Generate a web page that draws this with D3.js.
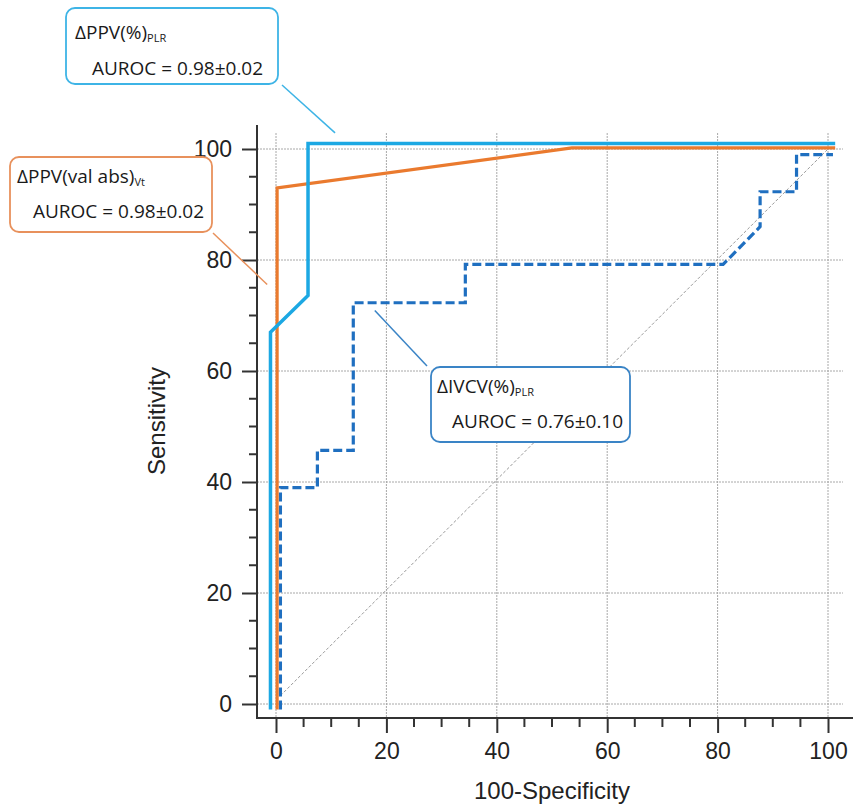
<!DOCTYPE html>
<html>
<head>
<meta charset="utf-8">
<script src="https://cdn.jsdelivr.net/npm/d3@7"></script>
<style>
  body { margin: 0; background: #fff; }
  svg { display: block; }
</style>
</head>
<body>
<svg id="chart"></svg>
<script>
// tick values for both axes
var xTicks = [0, 20, 40, 60, 80, 100];
var yTicks = [0, 20, 40, 60, 80, 100];

// ROC curves (curves are slightly offset so they don't overlap)
var ppvPlrX = [-1, -1, 5.8, 5.8, 101.3];
var ppvPlrY = [-1, 67, 73.6, 101, 101];

var ppvAbsX = [0.2, 0.2, 53.6, 101.3];
var ppvAbsY = [-1, 93, 100.2, 100.2];

var ivcvX = [0.8, 0.8, 7.5, 7.5, 14, 14, 34.3, 34.3, 81, 87.7, 87.7, 94.3, 94.3, 100.9];
var ivcvY = [-1, 39, 39, 45.7, 45.7, 72.3, 72.3, 79.2, 79.2, 86, 92.3, 92.3, 99, 99];

// callout labels
var labelNames = ['ΔPPV(%)', 'ΔPPV(val abs)', 'ΔIVCV(%)'];
var labelSubs = ['PLR', 'Vt', 'PLR'];
var labelAuroc = ['AUROC = 0.98±0.02', 'AUROC = 0.98±0.02', 'AUROC = 0.76±0.10'];
// where each leader line touches the plot (data units)
var anchorX = [10.7, -1.6, 17.9];
var anchorY = [102.9, 75.6, 70.9];

var W = 853, H = 807;
var svg = d3.select('#chart').attr('width', W).attr('height', H);

var x = d3.scaleLinear().domain([0, 100]).range([276, 828]);
var y = d3.scaleLinear().domain([0, 100]).range([704, 149]);

var axisLeft = 257, axisBottom = 718;

// grid
var grid = svg.append('g');
grid.selectAll('.vg').data(xTicks).enter().append('line')
    .attr('x1', function(d) { return x(d); })
    .attr('x2', function(d) { return x(d); })
    .attr('y1', 133).attr('y2', axisBottom)
    .attr('stroke', '#a8a8a8').attr('stroke-width', 1)
    .attr('stroke-dasharray', '2,1');
grid.selectAll('.hg').data(yTicks).enter().append('line')
    .attr('x1', axisLeft).attr('x2', 843)
    .attr('y1', function(d) { return y(d); })
    .attr('y2', function(d) { return y(d); })
    .attr('stroke', '#a8a8a8').attr('stroke-width', 1)
    .attr('stroke-dasharray', '2,1');

// chance diagonal
svg.append('line')
    .attr('x1', x(0.8)).attr('y1', y(1.5))
    .attr('x2', x(100)).attr('y2', y(100))
    .attr('stroke', '#999').attr('stroke-width', 1)
    .attr('stroke-dasharray', '3,2');

// axes
var xAxis = d3.axisBottom(x).tickValues(xTicks).tickSize(15).tickPadding(10);
var yAxis = d3.axisLeft(y).tickValues(yTicks).tickSize(15).tickPadding(10);

var gx = svg.append('g').attr('transform', 'translate(0,' + axisBottom + ')').call(xAxis);
var gy = svg.append('g').attr('transform', 'translate(' + axisLeft + ',0)').call(yAxis);

[gx, gy].forEach(function(g) {
    g.select('.domain').remove();
    g.selectAll('line').attr('stroke', '#333').attr('stroke-width', 2);
    g.selectAll('text').attr('font-family', 'Liberation Sans, Arial, sans-serif')
        .attr('font-size', 23).attr('fill', '#222');
});

// minor ticks every 5
var minor = d3.range(0, 101, 5).filter(function(d) { return d % 20 != 0; });
svg.append('g').selectAll('line').data(minor).enter().append('line')
    .attr('x1', function(d) { return x(d); }).attr('x2', function(d) { return x(d); })
    .attr('y1', axisBottom).attr('y2', axisBottom + 9)
    .attr('stroke', '#333').attr('stroke-width', 2);
svg.append('g').selectAll('line').data(minor).enter().append('line')
    .attr('y1', function(d) { return y(d); }).attr('y2', function(d) { return y(d); })
    .attr('x1', axisLeft).attr('x2', axisLeft - 8)
    .attr('stroke', '#333').attr('stroke-width', 2);

// axis lines
svg.append('line').attr('x1', axisLeft).attr('x2', axisLeft)
    .attr('y1', 125).attr('y2', axisBottom + 1)
    .attr('stroke', '#333').attr('stroke-width', 2);
svg.append('line').attr('x1', axisLeft - 1).attr('x2', 853)
    .attr('y1', axisBottom).attr('y2', axisBottom)
    .attr('stroke', '#333').attr('stroke-width', 2);

// axis titles
svg.append('text')
    .attr('x', x(50)).attr('y', 799)
    .attr('text-anchor', 'middle')
    .attr('font-family', 'Liberation Sans, Arial, sans-serif')
    .attr('font-size', 24).attr('fill', '#222')
    .text('100-Specificity');
svg.append('text')
    .attr('transform', 'translate(165,421) rotate(-90)')
    .attr('text-anchor', 'middle')
    .attr('font-family', 'Liberation Sans, Arial, sans-serif')
    .attr('font-size', 24).attr('fill', '#222')
    .text('Sensitivity');

// curves
var line = d3.line()
    .x(function(d) { return x(d[0]); })
    .y(function(d) { return y(d[1]); });

function zip(a, b) { return a.map(function(v, i) { return [v, b[i]]; }); }

svg.append('path').datum(zip(ivcvX, ivcvY))
    .attr('d', line).attr('fill', 'none')
    .attr('stroke', '#1f6fc0').attr('stroke-width', 3.2)
    .attr('stroke-dasharray', '9,4');
svg.append('path').datum(zip(ppvAbsX, ppvAbsY))
    .attr('d', line).attr('fill', 'none')
    .attr('stroke', '#ea7a2e').attr('stroke-width', 3.2);
svg.append('path').datum(zip(ppvPlrX, ppvPlrY))
    .attr('d', line).attr('fill', 'none')
    .attr('stroke', '#1ca8e3').attr('stroke-width', 3.5);

// callout boxes
var boxes = [
    { x: 66, y: 8, w: 212, h: 76, color: '#3eb4e6', lead: [282, 85], tx: 75, ty1: 39, ax: 92, ty2: 75 },
    { x: 10, y: 157, w: 202, h: 75, color: '#e8915c', lead: [213, 233], tx: 17, ty1: 183, ax: 33, ty2: 218 },
    { x: 431, y: 367, w: 199, h: 75, color: '#3a84c6', lead: [427, 366], tx: 437, ty1: 393, ax: 452, ty2: 428 }
];

boxes.forEach(function(b, i) {
    var g = svg.append('g');
    g.append('line')
        .attr('x1', b.lead[0]).attr('y1', b.lead[1])
        .attr('x2', x(anchorX[i])).attr('y2', y(anchorY[i]))
        .attr('stroke', b.color).attr('stroke-width', 1.5);
    g.append('rect')
        .attr('x', b.x).attr('y', b.y).attr('width', b.w).attr('height', b.h)
        .attr('rx', 9).attr('fill', '#fff')
        .attr('stroke', b.color).attr('stroke-width', 1.8);
    var t = g.append('text')
        .attr('x', b.tx).attr('y', b.ty1)
        .attr('font-family', 'Open Sans, sans-serif')
        .attr('font-size', 19).attr('fill', '#1a1a1a');
    t.append('tspan').text(labelNames[i]);
    t.append('tspan').attr('font-size', 11).attr('dy', 3).text(labelSubs[i]);
    g.append('text')
        .attr('x', b.ax).attr('y', b.ty2)
        .attr('font-family', 'Open Sans, sans-serif')
        .attr('font-size', 19).attr('fill', '#1a1a1a')
        .text(labelAuroc[i]);
});
</script>
</body>
</html>
